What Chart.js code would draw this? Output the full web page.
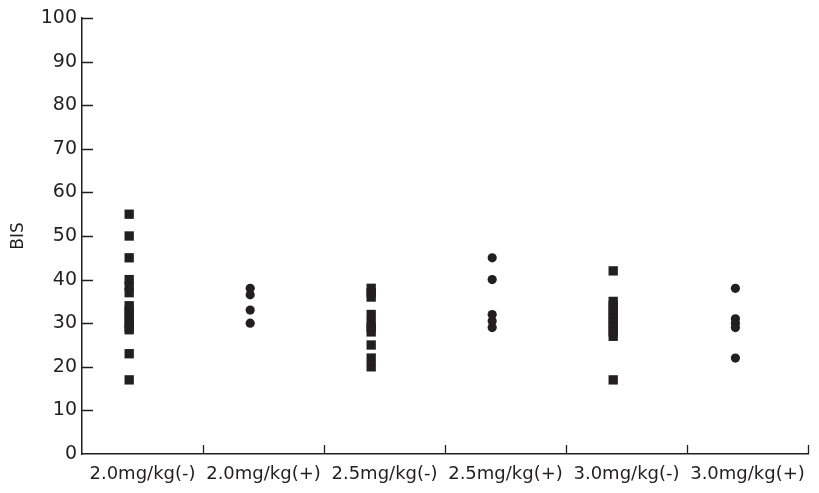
<!DOCTYPE html>
<html>
<head>
<meta charset="utf-8">
<script src="https://cdn.jsdelivr.net/npm/chart.js@4/dist/chart.umd.min.js"></script>
<style>
  html, body { margin: 0; padding: 0; background: #fff; }
  #wrap { width: 819px; height: 493px; }
</style>
</head>
<body>
<div id="wrap"><canvas id="chart" width="819" height="493"></canvas></div>
<script>
// ---- data ----
const groups = ['2.0mg/kg(-)', '2.0mg/kg(+)', '2.5mg/kg(-)', '2.5mg/kg(+)', '3.0mg/kg(-)', '3.0mg/kg(+)'];
const groupX = [0.39, 1.39, 2.39, 3.39, 4.39, 5.40];
const bis20neg = [55, 50, 45, 40, 38.5, 37, 34, 33, 32, 31, 30, 29, 28.5, 23, 17];
const bis20pos = [38, 36.5, 33, 30];
const bis25neg = [38, 37, 36, 32, 30, 29, 28, 25, 22, 20];
const bis25pos = [45, 40, 32, 30.5, 29];
const bis30neg = [42, 35, 34, 33, 32, 31, 30, 29, 28, 27, 17];
const bis30pos = [38, 31, 30, 29, 22];
const yTicks = [0, 10, 20, 30, 40, 50, 60, 70, 80, 90, 100];

const INK = '#231f20';
const FONT = '"DejaVu Sans", sans-serif';

const toPoints = (vals, gi) => vals.map((v) => ({ x: groupX[gi], y: v }));

// tick marks pointing into the plot, placed by the scales
const inwardTicks = {
  id: 'inwardTicks',
  afterDraw(chart) {
    const { ctx, scales: { x, y } } = chart;
    ctx.save();
    ctx.strokeStyle = INK;
    ctx.lineWidth = 1.3;
    ctx.beginPath();
    yTicks.slice(1).forEach((v) => {
      const py = Math.round(y.getPixelForValue(v)) + 0.5;
      ctx.moveTo(x.left, py);
      ctx.lineTo(x.left + 11, py);
    });
    for (let i = 1; i <= groups.length; i++) {
      const px = Math.round(x.getPixelForValue(i)) + 0.5;
      ctx.moveTo(px, y.bottom);
      ctx.lineTo(px, y.bottom - 9);
    }
    ctx.stroke();
    ctx.restore();
  },
};

new Chart(document.getElementById('chart'), {
  type: 'scatter',
  data: {
    datasets: [
      { data: toPoints(bis20neg, 0), pointStyle: 'rect', pointRadius: 6.6 },
      { data: toPoints(bis20pos, 1), pointStyle: 'circle', pointRadius: 4.6 },
      { data: toPoints(bis25neg, 2), pointStyle: 'rect', pointRadius: 6.6 },
      { data: toPoints(bis25pos, 3), pointStyle: 'circle', pointRadius: 4.6 },
      { data: toPoints(bis30neg, 4), pointStyle: 'rect', pointRadius: 6.6 },
      { data: toPoints(bis30pos, 5), pointStyle: 'circle', pointRadius: 4.6 },
    ].map((d) => ({ ...d, backgroundColor: INK, borderColor: INK, borderWidth: 0 })),
  },
  options: {
    responsive: false,
    animation: false,
    layout: { padding: { top: 18, right: 11, left: 0, bottom: 0 } },
    plugins: { legend: { display: false }, tooltip: { enabled: false } },
    scales: {
      x: {
        type: 'linear',
        min: 0,
        max: 6,
        afterBuildTicks: (scale) => {
          scale.ticks = groups.map((g, i) => ({ value: i + 0.5 }));
        },
        afterFit: (scale) => { scale.height = 39; },
        grid: { display: false, drawTicks: false },
        border: { display: true, color: INK, width: 1.5 },
        ticks: {
          autoSkip: false,
          maxRotation: 0,
          padding: 10,
          color: INK,
          font: { family: FONT, size: 18 },
          callback: (v) => groups[Math.floor(v)],
        },
      },
      y: {
        min: 0,
        max: 100,
        afterBuildTicks: (scale) => {
          scale.ticks = yTicks.map((v) => ({ value: v }));
        },
        afterFit: (scale) => { scale.width = 82; },
        grid: { display: false, drawTicks: false },
        border: { display: true, color: INK, width: 1.5 },
        ticks: {
          padding: 5,
          color: INK,
          font: { family: FONT, size: 19 },
        },
        title: {
          display: true,
          text: 'BIS',
          color: INK,
          padding: { top: 8, bottom: 0 },
          font: { family: FONT, size: 17 },
        },
      },
    },
  },
  plugins: [inwardTicks],
});
</script>
</body>
</html>
